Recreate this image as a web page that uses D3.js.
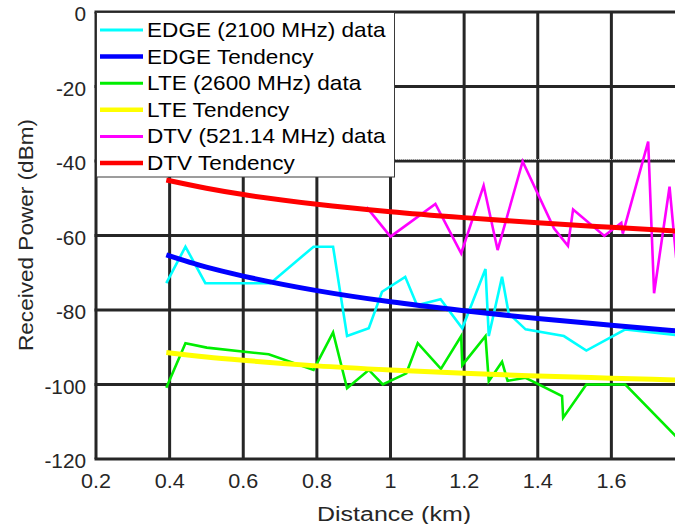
<!DOCTYPE html>
<html>
<head>
<meta charset="utf-8">
<script src="https://cdn.jsdelivr.net/npm/d3@7"></script>
<style>
  body { margin: 0; background: #fff; }
  svg { display: block; font-family: "Liberation Sans", Arial, sans-serif; }
  .tick-label { fill: #262626; font-size: 20px; }
  .title { fill: #262626; font-size: 20px; }
  .legend-label { fill: #000; font-size: 20px; }
</style>
</head>
<body>
<svg id="chart" width="675" height="524"></svg>
<script>
// ticks
var xTicks = [0.2, 0.4, 0.6, 0.8, 1, 1.2, 1.4, 1.6];
var yTicks = [-120, -100, -80, -60, -40, -20, 0];

// EDGE (2100 MHz) measured points
var edgeDist = [0.391, 0.443, 0.497, 0.674, 0.791, 0.844, 0.882, 0.941, 0.977, 1.04, 1.072, 1.136, 1.195, 1.258, 1.267, 1.303, 1.321, 1.367, 1.471, 1.532, 1.638, 1.776];
var edgePower = [-72.8, -63.0, -72.8, -72.8, -63.0, -63.0, -87.0, -84.9, -75.1, -71.1, -78.7, -77.1, -84.9, -69.0, -87.0, -71.1, -80.9, -85.2, -87.0, -90.9, -85.2, -86.7];

// LTE (2600 MHz) measured points
var lteDist = [0.391, 0.443, 0.501, 0.669, 0.791, 0.844, 0.882, 0.941, 0.979, 1.043, 1.074, 1.137, 1.192, 1.195, 1.258, 1.267, 1.303, 1.318, 1.367, 1.466, 1.469, 1.532, 1.638, 1.776];
var ltePower = [-100.9, -88.9, -90.1, -91.9, -96.1, -86.0, -101.0, -96.1, -100.0, -97.0, -88.9, -95.8, -87.0, -94.8, -87.0, -99.1, -93.9, -99.0, -98.2, -103.1, -108.9, -100.0, -100.0, -114.0];

// DTV (521.14 MHz) measured points
var dtvDist = [0.935, 1.0, 1.122, 1.192, 1.253, 1.291, 1.359, 1.444, 1.482, 1.496, 1.581, 1.627, 1.631, 1.700, 1.716, 1.758, 1.776];
var dtvPower = [-52.4, -60.3, -51.5, -64.8, -46.6, -63.9, -40.1, -58.1, -62.8, -53.0, -60.1, -56.6, -59.5, -34.8, -75.5, -46.9, -66.0];

// tendency curves, read at these distances
var trendDist = [0.391, 0.5, 0.6, 0.8, 1.0, 1.2, 1.4, 1.6, 1.776];
var edgeTrend = [-65.2, -68.5, -70.9, -74.8, -77.8, -80.2, -82.3, -84.1, -85.6];
var lteTrend = [-91.4, -92.6, -93.5, -95.0, -96.1, -97.0, -97.7, -98.3, -98.8];
var dtvTrend = [-45.1, -47.3, -49.0, -51.6, -53.6, -55.2, -56.6, -57.8, -58.8];

var legendNames = ["EDGE (2100 MHz) data", "EDGE Tendency", "LTE (2600 MHz) data",
                   "LTE Tendency", "DTV (521.14 MHz) data", "DTV Tendency"];

var svg = d3.select("#chart");
var plotLeft = 96, plotTop = 12, plotRight = 685, plotBottom = 459;

var x = d3.scaleLinear().domain([0.2, 1.8]).range([plotLeft, plotRight]);
var y = d3.scaleLinear().domain([-120, 0]).range([plotBottom, plotTop]);

function pairs(xs, ys) {
  return xs.map(function(d, i) { return [d, ys[i]]; });
}

var series = [
  { name: legendNames[0], pts: pairs(edgeDist, edgePower), color: "#00ffff", width: 2.6, curve: d3.curveLinear },
  { name: legendNames[1], pts: pairs(trendDist, edgeTrend), color: "#0000ff", width: 5, curve: d3.curveMonotoneX },
  { name: legendNames[2], pts: pairs(lteDist, ltePower), color: "#00ee00", width: 2.6, curve: d3.curveLinear },
  { name: legendNames[3], pts: pairs(trendDist, lteTrend), color: "#ffff00", width: 5, curve: d3.curveMonotoneX },
  { name: legendNames[4], pts: pairs(dtvDist, dtvPower), color: "#ff00ff", width: 2.6, curve: d3.curveLinear },
  { name: legendNames[5], pts: pairs(trendDist, dtvTrend), color: "#ff0000", width: 5, curve: d3.curveMonotoneX }
];

svg.append("clipPath").attr("id", "plot-clip")
  .append("rect").attr("x", plotLeft).attr("y", plotTop)
  .attr("width", plotRight - plotLeft).attr("height", plotBottom - plotTop);

// grid
var grid = svg.append("g").attr("stroke", "#262626").attr("stroke-width", 3);
grid.selectAll(".vx").data(xTicks.concat([1.8])).enter().append("line")
  .attr("x1", function(d) { return x(d); }).attr("x2", function(d) { return x(d); })
  .attr("y1", plotTop).attr("y2", plotBottom);
grid.selectAll(".hy").data(yTicks).enter().append("line")
  .attr("x1", plotLeft - 1.5).attr("x2", plotRight)
  .attr("y1", function(d) { return y(d); }).attr("y2", function(d) { return y(d); });

// faint dotted edge on the -40 line
svg.append("line")
  .attr("x1", 394).attr("x2", 675)
  .attr("y1", y(-40) - 1.5).attr("y2", y(-40) - 1.5)
  .attr("stroke", "#c8c8c8").attr("stroke-width", 1).attr("stroke-dasharray", "1,1");

// lines
var line = d3.line()
  .x(function(d) { return x(d[0]); })
  .y(function(d) { return y(d[1]); });

svg.append("g").attr("clip-path", "url(#plot-clip)")
  .selectAll("path").data(series).enter().append("path")
  .attr("d", function(d) { return line.curve(d.curve)(d.pts); })
  .attr("fill", "none")
  .attr("stroke", function(d) { return d.color; })
  .attr("stroke-width", function(d) { return d.width; });

// tick labels
svg.selectAll(".xl").data(xTicks).enter().append("text")
  .attr("class", "tick-label")
  .attr("text-anchor", "middle")
  .attr("transform", function(d) { return "translate(" + x(d) + ",488) scale(1.08,1)"; })
  .text(function(d) { return d; });

svg.selectAll(".yl").data(yTicks).enter().append("text")
  .attr("class", "tick-label")
  .attr("text-anchor", "end")
  .attr("transform", function(d) { return "translate(86," + (y(d) + 9) + ") scale(1.04,1)"; })
  .text(function(d) { return d; });

// axis titles
svg.append("text").attr("class", "title")
  .attr("x", 394).attr("y", 521)
  .attr("text-anchor", "middle")
  .attr("textLength", 154).attr("lengthAdjust", "spacingAndGlyphs")
  .text("Distance (km)");

svg.append("text").attr("class", "title")
  .style("font-size", "21px")
  .attr("transform", "translate(33,235) rotate(-90)")
  .attr("text-anchor", "middle")
  .attr("textLength", 232).attr("lengthAdjust", "spacingAndGlyphs")
  .text("Received Power (dBm)");

// legend
var legend = svg.append("g");
legend.append("rect")
  .attr("x", 96.5).attr("y", 12.5).attr("width", 298).attr("height", 164.5)
  .attr("fill", "#fff").attr("stroke", "#3a3a3a").attr("stroke-width", 1);

var rows = legend.selectAll(".row").data(series).enter().append("g")
  .attr("transform", function(d, i) { return "translate(0," + (30 + i * 26.6) + ")"; });
rows.append("line")
  .attr("x1", 100).attr("x2", 143).attr("y1", 0).attr("y2", 0)
  .attr("stroke", function(d) { return d.color; })
  .attr("stroke-width", function(d) { return d.width === 5 ? 4.5 : 3; });
rows.append("text")
  .attr("class", "legend-label")
  .attr("transform", "translate(147,7) scale(1.13,1)")
  .text(function(d) { return d.name; });
</script>
</body>
</html>
